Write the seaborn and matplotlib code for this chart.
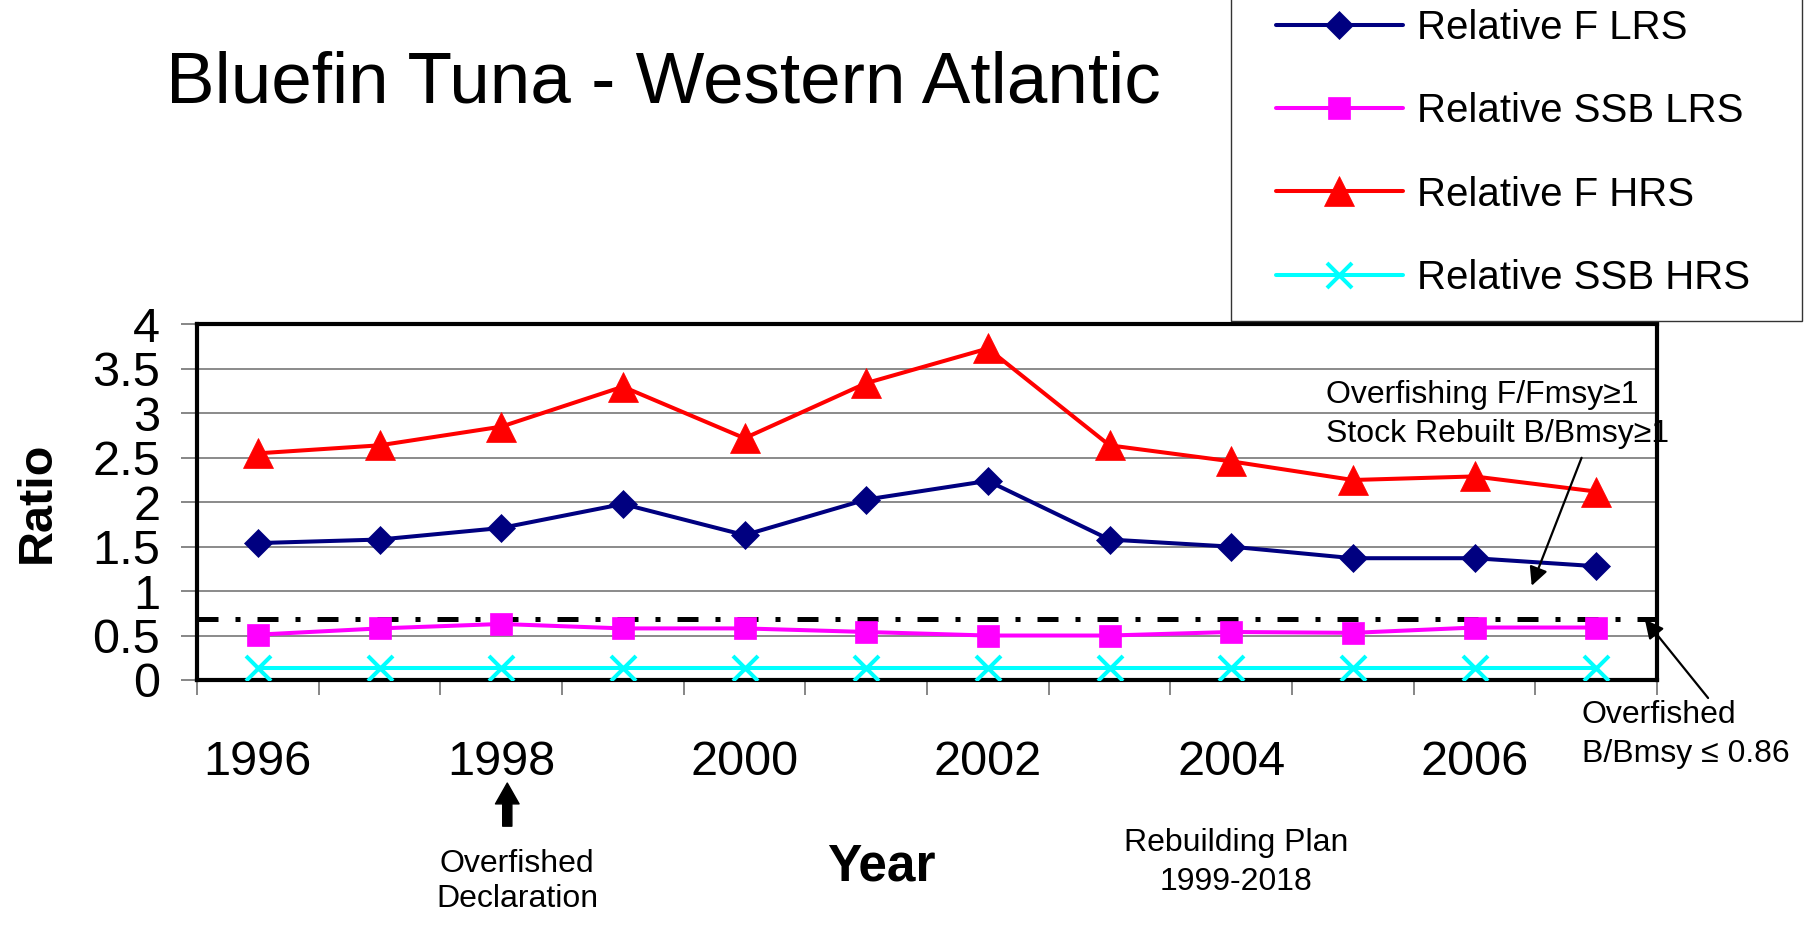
import numpy as np
import pandas as pd
import matplotlib
matplotlib.use('Agg')
import matplotlib.pyplot as plt
import matplotlib.patches as patches
from matplotlib.ticker import FixedLocator
import seaborn as sns

# data
years = [1996, 1997, 1998, 1999, 2000, 2001, 2002, 2003, 2004, 2005, 2006, 2007]
f_lrs = [1.54, 1.58, 1.71, 1.98, 1.63, 2.03, 2.24, 1.58, 1.50, 1.37, 1.37, 1.28]
ssb_lrs = [0.51, 0.58, 0.63, 0.58, 0.58, 0.54, 0.50, 0.50, 0.54, 0.53, 0.59, 0.59]
f_hrs = [2.55, 2.64, 2.85, 3.30, 2.72, 3.34, 3.73, 2.64, 2.46, 2.25, 2.29, 2.12]
ssb_hrs = [0.14, 0.14, 0.14, 0.14, 0.14, 0.14, 0.14, 0.14, 0.14, 0.14, 0.14, 0.14]
overfished_line = 0.69

series_names = ['Relative F LRS', 'Relative SSB LRS', 'Relative F HRS', 'Relative SSB HRS']
series_vals = [f_lrs, ssb_lrs, f_hrs, ssb_hrs]
colors = ['#000080', '#FF00FF', '#FF0000', '#00FFFF']
markers = ['D', 's', '^', 'x']
msizes = [14, 16, 21, 18]

ytick_vals = [0, 0.5, 1, 1.5, 2, 2.5, 3, 3.5, 4]
ytick_labels = ['0', '0.5', '1', '1.5', '2', '2.5', '3', '3.5', '4']
xtick_years = [1996, 1998, 2000, 2002, 2004, 2006]

sns.set_theme(style='white')
plt.rcParams['font.family'] = ['Liberation Sans', 'DejaVu Sans']
plt.rcParams['text.color'] = 'black'
plt.rcParams['axes.labelcolor'] = 'black'
plt.rcParams['xtick.labelcolor'] = 'black'
plt.rcParams['ytick.labelcolor'] = 'black'

fig = plt.figure(figsize=(18.06, 9.26), dpi=100)
ax = fig.add_axes([0.1091, 0.2657, 0.8084, 0.3839])

handles = []
for name, vals, c, m, ms in zip(series_names, series_vals, colors, markers, msizes):
    sns.lineplot(x=years, y=vals, ax=ax, color=c, marker=m, markersize=ms,
                 markeredgecolor=c, markerfacecolor=c,
                 markeredgewidth=2.9 if m == 'x' else 0.5,
                 linewidth=2.9, legend=False, zorder=3)
    line = ax.lines[-1]
    line.set_label(name)
    handles.append(line)

# overfished threshold (dash-dot)
ax.axhline(overfished_line, xmin=0, xmax=1.012, color='black', lw=3.6,
           dashes=(4.2, 3.4, 1.0, 3.4), clip_on=False, zorder=2)

ax.set_xlim(1995.5, 2007.5)
ax.set_ylim(0, 4)
ax.set_yticks(ytick_vals)
ax.set_yticklabels(ytick_labels)
ax.set_xticks(xtick_years)
ax.set_xticklabels([str(y) for y in xtick_years])
ax.xaxis.set_minor_locator(FixedLocator(np.arange(1995.5, 2008, 1.0)))

ax.tick_params(axis='both', which='major', labelsize=35, colors='#666666',
               labelcolor='black')
ax.tick_params(axis='y', which='major', left=True, length=11.5, width=1.1,
               direction='out', pad=15)
ax.tick_params(axis='x', which='major', bottom=True, length=0, pad=43)
ax.tick_params(axis='x', which='minor', bottom=True, length=10.8, width=1.1,
               direction='out', color='#666666')

ax.yaxis.grid(True, color='#777777', lw=1.2)
ax.xaxis.grid(False)
ax.set_axisbelow(True)
for sp in ax.spines.values():
    sp.set_color('black')
    sp.set_linewidth(3)

ax.set_ylabel('Ratio', fontsize=35, fontweight='bold', color='black')
ax.yaxis.set_label_coords(-0.094, 0.5)
ax.set_xlabel('Year', fontsize=37, fontweight='bold', color='black')
ax.xaxis.set_label_coords(0.4685, -0.456)

# title
fig.text(0.092, 1 - 102.7 / 926, 'Bluefin Tuna - Western Atlantic',
         fontsize=52.5, ha='left', va='baseline', color='black')

# legend in a box cut by the top edge
leg = fig.legend(handles=handles, loc='center left',
                 bbox_to_anchor=(1276 / 1806, 1 - 153 / 926),
                 frameon=False, fontsize=29, borderpad=0, borderaxespad=0,
                 handlelength=3.15, handletextpad=0.35, labelspacing=1.12,
                 labelcolor='black')
fig.add_artist(patches.Rectangle((1231 / 1806, 1 - 321 / 926), (1802 - 1231) / 1806, 0.4,
                                 transform=fig.transFigure, fill=False,
                                 ec='#333333', lw=1.0))

# annotations
ax.text(2004.78, 3.12, 'Overfishing F/Fmsy\u22651', fontsize=23, ha='left', va='baseline')
ax.text(2004.78, 2.68, 'Stock Rebuilt B/Bmsy\u22651', fontsize=23, ha='left', va='baseline')
ax.annotate('', xy=(2006.47, 1.06), xytext=(2006.88, 2.50),
            arrowprops=dict(arrowstyle='-|>', color='black', lw=1.6,
                            mutation_scale=28, shrinkA=0, shrinkB=0))

ax.text(2006.88, -0.485, 'Overfished', fontsize=23, ha='left', va='baseline')
ax.text(2006.88, -0.924, 'B/Bmsy \u2264 0.86', fontsize=23, ha='left', va='baseline')
ax.annotate('', xy=(2007.40, 0.68), xytext=(2007.92, -0.203),
            arrowprops=dict(arrowstyle='-|>', color='black', lw=1.6,
                            mutation_scale=28, shrinkA=0, shrinkB=0),
            annotation_clip=False)

ax.annotate('', xy=(1998.05, -1.16), xytext=(1998.05, -1.645),
            arrowprops=dict(arrowstyle='simple,head_length=0.75,head_width=0.85,tail_width=0.33',
                            fc='black', ec='black', mutation_scale=20,
                            shrinkA=0, shrinkB=0),
            annotation_clip=False)
ax.text(1998.13, -2.16, 'Overfished', fontsize=23, ha='center', va='baseline')
ax.text(1998.13, -2.56, 'Declaration', fontsize=23, ha='center', va='baseline')

ax.text(2004.04, -1.93, 'Rebuilding Plan', fontsize=23, ha='center', va='baseline')
ax.text(2004.04, -2.36, '1999-2018', fontsize=23, ha='center', va='baseline')

fig.savefig('out.png', dpi=100)
